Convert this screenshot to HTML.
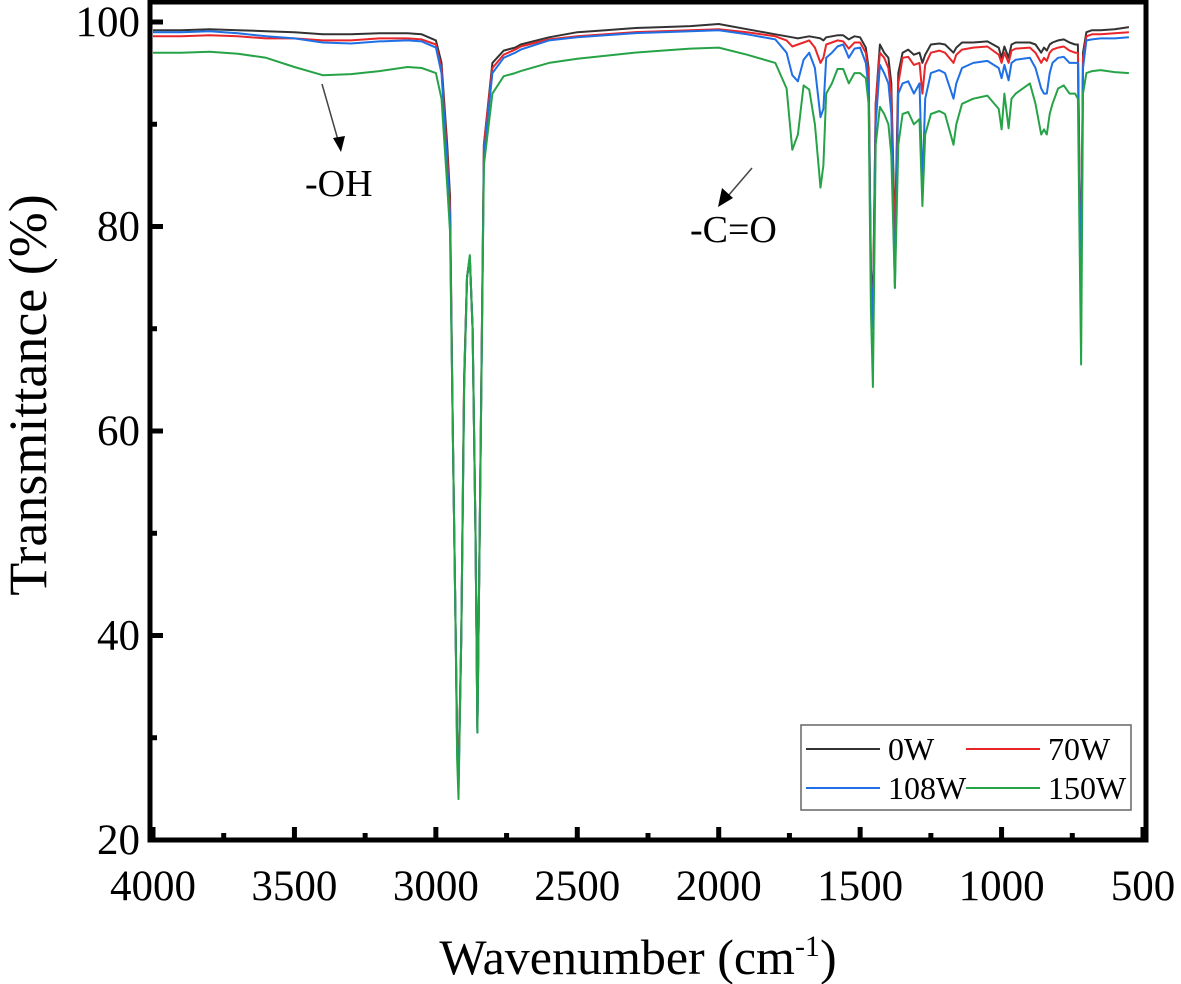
<!DOCTYPE html>
<html><head><meta charset="utf-8"><style>
body{margin:0;background:#fff;}
svg{display:block;font-family:"Liberation Serif",serif;}
</style></head><body>
<svg id="chart" width="1181" height="984" viewBox="0 0 1181 984" xmlns="http://www.w3.org/2000/svg">
<g id="plot"></g>
</svg>
<script>
const wavenumbers=[4000,3900,3800,3700,3600,3500,3400,3300,3200,3100,3050,3000,2980,2960,2950,2940,2930,2925,2920,2910,2900,2890,2880,2870,2860,2853,2845,2830,2800,2760,2720,2700,2600,2500,2400,2300,2200,2100,2000,1900,1800,1760,1740,1720,1700,1680,1660,1640,1630,1620,1600,1580,1560,1540,1520,1500,1480,1470,1462,1455,1445,1430,1415,1400,1390,1377,1365,1350,1330,1310,1290,1280,1270,1250,1220,1200,1170,1160,1140,1100,1050,1010,1000,990,975,965,950,900,880,860,850,840,830,820,800,780,760,740,730,725,719,712,700,680,650,600,550];
const s0W=[99.2,99.2,99.3,99.2,99.1,99.0,98.8,98.8,98.9,98.9,98.8,98.2,96,88,83,60,40,30,26,40,65,75,77,70,50,31,50,88,96,97.2,97.5,97.8,98.5,99,99.2,99.4,99.5,99.6,99.8,99.3,98.8,98.6,98.5,98.4,98.5,98.6,98.5,98.4,98.2,98.5,98.6,98.7,98.7,98.3,98.6,98.5,97.5,95.5,76,72,92,97.8,97,96.5,94,79,95,97,97.3,96.8,97,96,96.8,97.8,97.9,97.8,97,97.5,98,98,98.1,97.5,96.5,97.6,96.5,97.8,98,98,97.8,97,97.5,97.2,97.8,98,98.2,98.3,98,97.8,97.8,86,74,97,99,99.2,99.2,99.3,99.5];
const s70W=[98.6,98.6,98.7,98.6,98.4,98.4,98.2,98.2,98.4,98.4,98.3,97.8,95.5,87,82,60,40,30,26,40,65,75,77,70,50,31,50,88,95.5,96.8,97.3,97.6,98.3,98.6,98.8,99,99.1,99.2,99.3,99,98.6,98.2,97.6,97.8,98,98.2,97.5,96,96.5,97.8,98,98.2,98.1,97.4,98,98,97,95,75,71,92,97,96.5,95.5,93,78,94,96.5,96.6,95.8,96,93,95.8,97,97.2,97,96,96.8,97.3,97.5,97.6,96.8,96,97,96,97.2,97.4,97.5,97,96,96.5,96.2,97,97.3,97.5,97.6,97.2,97,97,85,74,96.5,98.6,98.8,98.8,98.9,99];
const s108W=[99,99,99.1,98.9,98.6,98.4,98,97.9,98.1,98.2,98.1,97.5,95,86,81,60,40,29,25,40,64,75,77,70,50,30.5,50,87,95,96.5,97,97.3,98.2,98.5,98.7,98.9,99,99.1,99.2,98.8,98.3,97,94.8,94.2,96.3,97,95.5,90.7,91.5,96.5,97,97.6,97.8,96.5,97.4,97.5,96,93.5,75,70,90,95.8,95,94,91,74,93,94,94.2,93,94,84,92.5,95,95.3,95,92.5,94,95.5,96,96.2,95.5,94.5,95.8,94.3,96,96.3,96.5,95.5,93.5,93,93,95,96,96.5,96.6,96,96,96,84,73,95.5,98.2,98.3,98.4,98.4,98.5];
const s150W=[97,97,97.1,96.9,96.5,95.6,94.8,94.9,95.2,95.6,95.5,95,92.5,84,79.5,60,40,28,24,40,64,75,77.2,70,50,30.5,50,86,93,94.7,95,95.2,96,96.4,96.7,97,97.2,97.4,97.5,96.8,96,93.5,87.5,89,93.8,93.4,90,83.8,86,93,94,95.4,95.4,94,95,95,94.5,92,72,64.3,88,91.7,91,90,87,74,88,91,91.2,90,90.5,82,89,91,91.3,91,88,90,92,92.5,92.8,91.5,89.5,93,89.6,92.5,93,94,92,89,89.5,89,91,92,93.5,93.8,93,93,92.5,80,66.5,93,95,95.2,95.3,95.1,95];
const seriesNames=["0W","70W","108W","150W"];
const seriesColors=["#333333","#e8262a","#1f6fe5","#27a347"];
const xTicks=[4000,3500,3000,2500,2000,1500,1000,500];
const yTicks=[20,40,60,80,100];

const L=150,R=1146,T=2,B=840;
function X(v){return 153+(4000-v)*990/3500;}
function Y(v){return 840-(v-20)*818/80;}
const NS="http://www.w3.org/2000/svg";
const g=document.getElementById('plot');
function mk(tag,attrs,parent){const e=document.createElementNS(NS,tag);for(const k in attrs)e.setAttribute(k,attrs[k]);(parent||g).appendChild(e);return e;}

const all=[s0W,s70W,s108W,s150W];
all.forEach((s,i)=>{
  const d=wavenumbers.map((w,j)=>(j?'L':'M')+X(w).toFixed(1)+','+Y(s[j]).toFixed(1)).join('');
  const p=mk('path',{d:d,fill:'none',stroke:seriesColors[i],'stroke-width':2,'stroke-linejoin':'round'});
  
  
});

const fr=mk('rect',{x:L,y:T,width:R-L,height:B-T,fill:'none',stroke:'#000','stroke-width':5});



xTicks.forEach(v=>{
  const x=X(v);
  mk('line',{x1:x,x2:x,y1:B,y2:B-13,stroke:'#000','stroke-width':5});
  if(v>500){mk('line',{x1:X(v-250),x2:X(v-250),y1:B,y2:B-7,stroke:'#000','stroke-width':5});}
  const t=mk('text',{x:x,y:900,'font-size':43,'text-anchor':'middle'});
  t.textContent=v;
  
  
});
yTicks.forEach(v=>{
  const y=Y(v);
  mk('line',{x1:L,x2:L+13,y1:y,y2:y,stroke:'#000','stroke-width':5});
  if(v<100){mk('line',{x1:L,x2:L+7,y1:Y(v+10),y2:Y(v+10),stroke:'#000','stroke-width':5});}
  const t=mk('text',{x:140,y:y+14,'font-size':43,'text-anchor':'end'});
  t.textContent=v;
  
  
});

const xt=mk('text',{x:638,y:974,'font-size':50,'text-anchor':'middle'});
xt.innerHTML='Wavenumber (cm<tspan dy="-18" font-size="30">-1</tspan><tspan dy="18">)</tspan>';


const yt=mk('text',{x:0,y:0,'font-size':54,'text-anchor':'middle',transform:'translate(46,395) rotate(-90)'});
yt.textContent='Transmittance (%)';



mk('line',{x1:322,y1:84,x2:338,y2:140,stroke:'#444','stroke-width':1.5});
mk('path',{d:'M333,138 L345,136 L341,152 Z',fill:'#000'});
const oh=mk('text',{x:305,y:196,'font-size':38});
oh.textContent='-OH';


mk('line',{x1:752,y1:168,x2:728,y2:196,stroke:'#444','stroke-width':1.5});
mk('path',{d:'M722,188 L733,198 L718,207 Z',fill:'#000'});
const co=mk('text',{x:690,y:242,'font-size':38});
co.textContent='-C=O';



const lg=mk('g',{});


mk('rect',{x:801,y:725,width:330,height:85,fill:'#fff',stroke:'#666','stroke-width':1.5},lg);
const pos=[[806,749],[966,749],[806,788],[966,788]];
seriesNames.forEach((n,i)=>{
  const [x,y]=pos[i];
  mk('line',{x1:x,x2:x+74,y1:y,y2:y,stroke:seriesColors[i],'stroke-width':2},lg);
  const t=mk('text',{x:x+82,y:y+11,'font-size':32},lg);
  t.textContent=n;
  
  
});
</script>
</body></html>
